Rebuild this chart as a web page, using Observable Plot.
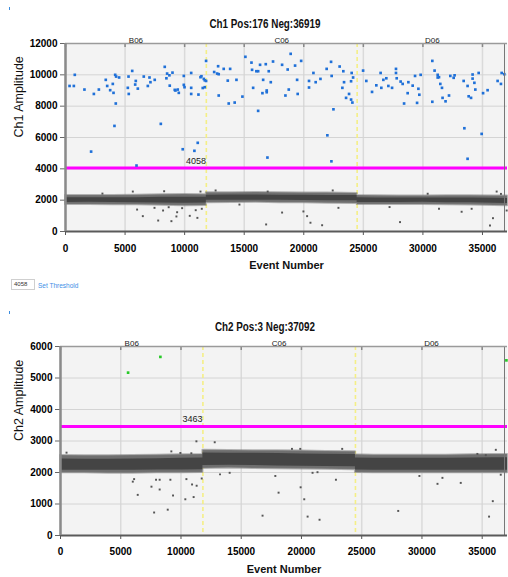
<!DOCTYPE html>
<html><head><meta charset="utf-8">
<script src="https://cdn.jsdelivr.net/npm/d3@7"></script>
<script src="https://cdn.jsdelivr.net/npm/@observablehq/plot@0.6"></script>
<style>
body{margin:0;background:#fff;width:508px;height:577px;position:relative;overflow:hidden;font-family:"Liberation Sans",Arial,sans-serif}
.title{position:absolute;left:265px;white-space:nowrap;font-size:12px;font-weight:bold;color:#111;transform:translateX(-50%) scaleX(0.82);transform-origin:center}
svg{position:absolute;left:0}
</style></head><body>
<script>
// ---------- shared ----------
const wells = ["B06", "C06", "D06"];
const wellStart = [0, 11820, 24480];
const wellEnd = [11820, 24480, 37100];
const xTicks = [0, 5000, 10000, 15000, 20000, 25000, 30000, 35000];
const bandEvent = [0, 2000, 4000, 6000, 8000, 10000, 11820, 11820, 14000, 16000, 18000, 20000, 22000, 24480, 24480, 26000, 28000, 30000, 32000, 34000, 36000, 37100];

// ---------- Ch1 ----------
const ch1Title = "Ch1 Pos:176 Neg:36919";
const ch1Threshold = 4058;
const ch1YTicks = [0, 2000, 4000, 6000, 8000, 10000, 12000];
const ch1OuterLo = [1720, 1730, 1710, 1700, 1670, 1650, 1660, 1830, 1850, 1860, 1840, 1830, 1810, 1790, 1720, 1720, 1720, 1730, 1710, 1690, 1660, 1640];
const ch1OuterHi = [2290, 2290, 2300, 2310, 2340, 2360, 2350, 2480, 2480, 2490, 2480, 2460, 2450, 2430, 2300, 2280, 2270, 2270, 2280, 2280, 2270, 2260];
const ch1CoreLo = [1850, 1860, 1850, 1840, 1820, 1810, 1820, 1990, 2000, 2000, 1990, 1980, 1970, 1960, 1850, 1850, 1850, 1860, 1840, 1830, 1810, 1790];
const ch1CoreHi = [2150, 2150, 2150, 2160, 2180, 2190, 2190, 2320, 2330, 2330, 2320, 2310, 2300, 2290, 2150, 2140, 2140, 2140, 2140, 2140, 2120, 2100];
const ch1PosEvent = [780,340,700,1590,2380,2800,2150,3380,3500,3970,3750,4030,4170,4250,4500,4220,4110,5290,5600,5230,5310,5900,5850,6070,5960,6570,7050,7130,6910,7490,8000,8330,8530,8720,8980,8470,8750,9170,
9930,10550,9930,9990,9230,9420,9510,10550,10550,11160,11330,11410,11610,11690,11520,11690,11800,11800,11100,10820,9840,12810,12480,12730,12860,13280,13820,12860,13620,14350,13700,14200,14850,15100,15610,15660,16020,16170,16330,16810,17420,17060,16590,17230,15750,16530,16890,16890,16170,16950,18460,
18180,18650,18900,19270,19780,19440,18740,19490,20810,20440,21000,21400,20440,21920,22290,22340,23010,23320,24020,24140,23380,23970,23240,23800,23550,23970,24080,22490,21980,22320,24980,25250,25730,26090,26450,26510,26680,26930,27100,27410,
27740,27740,27800,28130,28300,28780,28720,28420,29140,29340,29810,29620,29700,29510,30790,30980,31240,31240,31350,31460,31600,30790,31650,31900,32190,32300,32580,32660,33420,33750,34170,34170,34320,34680,34400,33840,34040,35050,35430,36270,36550,36610,36830,33480,34930,33750];
const ch1PosAmp = [10000,9290,9290,9060,8780,9060,5100,9680,9290,9420,9020,8850,10000,9890,9830,8170,6740,9890,10250,9170,8780,9610,9380,9120,4210,9890,9830,9530,9290,9680,6870,10510,10080,9970,10140,9780,9310,9040,
9930,10120,9360,9210,9000,9060,8850,9170,8780,8740,9850,9910,9740,9650,9160,9210,10890,9610,5660,5150,5250,10550,10180,10080,10040,10380,10380,8680,9630,9680,8170,8230,8610,11150,10780,10320,10230,10230,10640,10680,10850,10230,9680,9530,9170,8830,9000,8890,7700,4720,8680,
10640,10340,11340,10590,10890,9680,9060,8780,10120,9610,9530,9740,9190,10380,10830,9930,10530,10230,10120,9830,9530,9590,9170,8780,8530,8420,8230,7800,6140,4480,10270,9610,8910,9330,10120,9170,9680,9780,9290,9170,
10380,10120,9780,9570,9420,9530,8830,8170,9310,9930,10000,9110,8730,8210,10890,10270,10000,9830,9850,9420,9170,8280,8530,8310,8680,9930,9810,9970,9610,9290,10020,9760,9490,10120,9060,8630,8530,8830,9020,9610,9420,10120,10040,6590,6230,4640];
const ch1NegEvent = [6490,7780,8890,9310,10430,11070,8280,5650,11330,10930,11440,7470,8190,8660,9370,9790,6010,16840,18180,19970,20280,20560,21540,22910,22430,16970,28080,31350,33250,34090,35630,35880,36190,37030,36550,3100,12600,14600,27200,30400];
const ch1NegAmp = [980,700,660,960,1000,870,2570,2550,2550,1360,1450,1510,1340,1550,1230,1490,1400,450,1210,1280,980,560,400,1510,2620,2550,600,1450,1260,1450,380,850,2550,1340,2400,2420,2620,1720,1560,2410];

// ---------- Ch2 ----------
const ch2Title = "Ch2 Pos:3 Neg:37092";
const ch2Threshold = 3463;
const ch2YTicks = [0, 1000, 2000, 3000, 4000, 5000, 6000];
const ch2OuterLo = [1990, 1990, 1980, 1980, 1990, 1990, 2000, 2130, 2140, 2130, 2120, 2110, 2100, 2090, 2000, 1990, 1990, 1990, 1990, 1990, 1990, 1990];
const ch2OuterHi = [2540, 2530, 2530, 2540, 2550, 2560, 2570, 2710, 2700, 2690, 2690, 2680, 2670, 2660, 2560, 2550, 2550, 2550, 2550, 2560, 2570, 2570];
const ch2CoreLo = [2070, 2070, 2070, 2070, 2080, 2080, 2090, 2220, 2230, 2220, 2210, 2200, 2190, 2180, 2080, 2070, 2070, 2070, 2070, 2070, 2070, 2070];
const ch2CoreHi = [2430, 2420, 2420, 2430, 2440, 2450, 2460, 2620, 2610, 2610, 2600, 2590, 2580, 2570, 2460, 2450, 2450, 2450, 2450, 2460, 2470, 2470];
const ch2PosEvent = [5610, 8290, 37010];
const ch2PosAmp = [5170, 5670, 5560];
const ch2NegEvent = [500,6000,6110,6410,7550,7930,8230,8230,7770,8900,9120,9340,10360,10450,10920,11300,11050,11720,11280,12800,9950,9200,10860,13240,14040,16770,17830,18100,19930,20230,20510,21500,22860,20920,21330,23380,19900,19210,28030,29790,31290,31700,33220,35570,35880,36130,36540,34600,35300];
const ch2NegAmp = [2630,1710,1790,1290,1550,1770,1770,1460,730,820,1770,1270,1150,1790,1620,1580,1220,1810,2990,2960,2620,2670,2610,1940,1990,630,1890,1360,1530,1150,600,500,1770,1990,2010,2750,2750,2750,780,1890,1640,1830,1670,600,1090,2720,1930,2590,2550];

const FONT = "Liberation Sans, Arial, sans-serif";
const thresholdLabelEvent = 10950;

function panel(o) {
  const band = bandEvent.map((e, i) => ({e, olo: o.outerLo[i], ohi: o.outerHi[i], clo: o.coreLo[i], chi: o.coreHi[i]}));
  const pos = o.posEvent.map((e, i) => ({e, a: o.posAmp[i]}));
  const neg = o.negEvent.map((e, i) => ({e, a: o.negAmp[i]}));
  const wellRows = wells.map((w, i) => ({w, mid: (wellStart[i] + wellEnd[i]) / 2}));
  const yMax = o.yTicks[o.yTicks.length - 1];
  const tickLen = yMax / (o.height - o.marginTop - o.marginBottom) * 4;
  return Plot.plot({
    width: 508, height: o.height,
    marginTop: o.marginTop, marginBottom: o.marginBottom, marginLeft: o.marginLeft, marginRight: 1,
    style: {fontFamily: FONT, color: "#000", background: "transparent"},
    x: {domain: [0, 37100]},
    y: {domain: [0, yMax]},
    marks: [
      Plot.frame({fill: "#f3f3f3", stroke: "none"}),
      Plot.gridX(xTicks, {stroke: "#dadada", strokeOpacity: 1, strokeWidth: 1.5}),
      Plot.gridY(o.yTicks, {stroke: "#d4d4d4", strokeOpacity: 1, strokeWidth: 1}),
      Plot.ruleX(wellStart.slice(1), {stroke: "#f4ef86", strokeWidth: 1.6, strokeDasharray: "4,3"}),
      Plot.areaY(band, {x: "e", y1: "olo", y2: "ohi", fill: "#6e6e6e", stroke: "#7a7a7a", strokeWidth: 2, strokeOpacity: 0.55}),
      Plot.areaY(band, {x: "e", y1: "clo", y2: "chi", fill: "#444444"}),
      Plot.dot(neg, {x: "e", y: "a", symbol: "square", r: 1.1, fill: "#555", stroke: "none"}),
      Plot.ruleY([o.threshold], {stroke: "#ff00ff", strokeWidth: 3}),
      Plot.text([o.threshold], {x: thresholdLabelEvent, y: d => d, text: d => String(d), dy: -7, fontSize: 9, fill: "#222", fontFamily: FONT}),
      Plot.dot(pos, {x: "e", y: "a", symbol: "square", r: 1.5, fill: o.posColor, stroke: "none"}),
      // axes
      Plot.axisY(o.yTicks, {tickSize: 5, tickPadding: 3, fontSize: 10, fontWeight: "bold", stroke: "#666", label: null, tickFormat: d => String(d)}),
      Plot.axisX(xTicks, {tickSize: 4, tickPadding: o.xPad, fontSize: 10, fontWeight: "bold", stroke: "#555", label: null, tickFormat: d => String(d)}),
      Plot.ruleX(o.yTicks, {x: 37100, y: d => d, dx: -3, stroke: "#777"}),
      Plot.ruleX(xTicks, {y1: yMax, y2: yMax - tickLen, stroke: "#888", strokeWidth: 1.5}),
      Plot.ruleY([yMax], {stroke: "#9a9a9a", strokeWidth: 1.5}),
      Plot.ruleY([0], {stroke: "#5a5a5a", strokeWidth: 2}),
      Plot.ruleX([0], {stroke: "#8a8a8a", strokeWidth: 2.5}),
      Plot.text(wellRows, {x: "mid", text: "w", frameAnchor: "top", dy: o.wellDy, fontSize: 8, fill: "#222", fontFamily: FONT}),
      Plot.text([o.yLabel], {frameAnchor: "left", dx: o.yLabelDx, rotate: -90, fontSize: 12.5, fill: "#111", fontFamily: FONT}),
      Plot.text(["Event Number"], {frameAnchor: "bottom", dy: o.xLabelDy, fontSize: 11, fontWeight: "bold", fill: "#111", fontFamily: FONT})
    ]
  });
}

const p1 = panel({height: 280, marginTop: 43, marginBottom: 49, marginLeft: 65,
  yTicks: ch1YTicks, outerLo: ch1OuterLo, outerHi: ch1OuterHi, coreLo: ch1CoreLo, coreHi: ch1CoreHi,
  posEvent: ch1PosEvent, posAmp: ch1PosAmp, negEvent: ch1NegEvent, negAmp: ch1NegAmp, posColor: "#1f70d8",
  threshold: ch1Threshold, yLabel: "Ch1 Amplitude", xPad: 9, wellDy: -6, yLabelDx: -47, xLabelDy: 37});
p1.style.top = "0px";
document.body.appendChild(p1);

const p2 = panel({height: 277, marginTop: 46, marginBottom: 42, marginLeft: 60,
  yTicks: ch2YTicks, outerLo: ch2OuterLo, outerHi: ch2OuterHi, coreLo: ch2CoreLo, coreHi: ch2CoreHi,
  posEvent: ch2PosEvent, posAmp: ch2PosAmp, negEvent: ch2NegEvent, negAmp: ch2NegAmp, posColor: "#27c927",
  threshold: ch2Threshold, yLabel: "Ch2 Amplitude", xPad: 8, wellDy: -6, yLabelDx: -42, xLabelDy: 37});
p2.style.top = "300px";
document.body.appendChild(p2);

function addDiv(html, css) {
  const d = document.createElement("div");
  d.innerHTML = html;
  d.style.cssText = css;
  document.body.appendChild(d);
  return d;
}
const t1 = addDiv(ch1Title, ""); t1.className = "title"; t1.style.top = "17px";
const t2 = addDiv(ch2Title, ""); t2.className = "title"; t2.style.top = "320px";
addDiv("", "position:absolute;left:9px;top:7px;width:1px;height:3px;background:#3b8de0");
addDiv("", "position:absolute;left:9px;top:311px;width:1px;height:3px;background:#3b8de0");
addDiv(String(ch1Threshold), "position:absolute;left:11px;top:279px;width:24px;height:11px;border:1px solid #cfcfcf;box-sizing:border-box;font-size:6px;line-height:9px;padding-left:2px;color:#333");
addDiv("Set Threshold", "position:absolute;left:38px;top:281px;font-size:6.5px;line-height:9px;color:#3d8ee6");
</script>
</body></html>
